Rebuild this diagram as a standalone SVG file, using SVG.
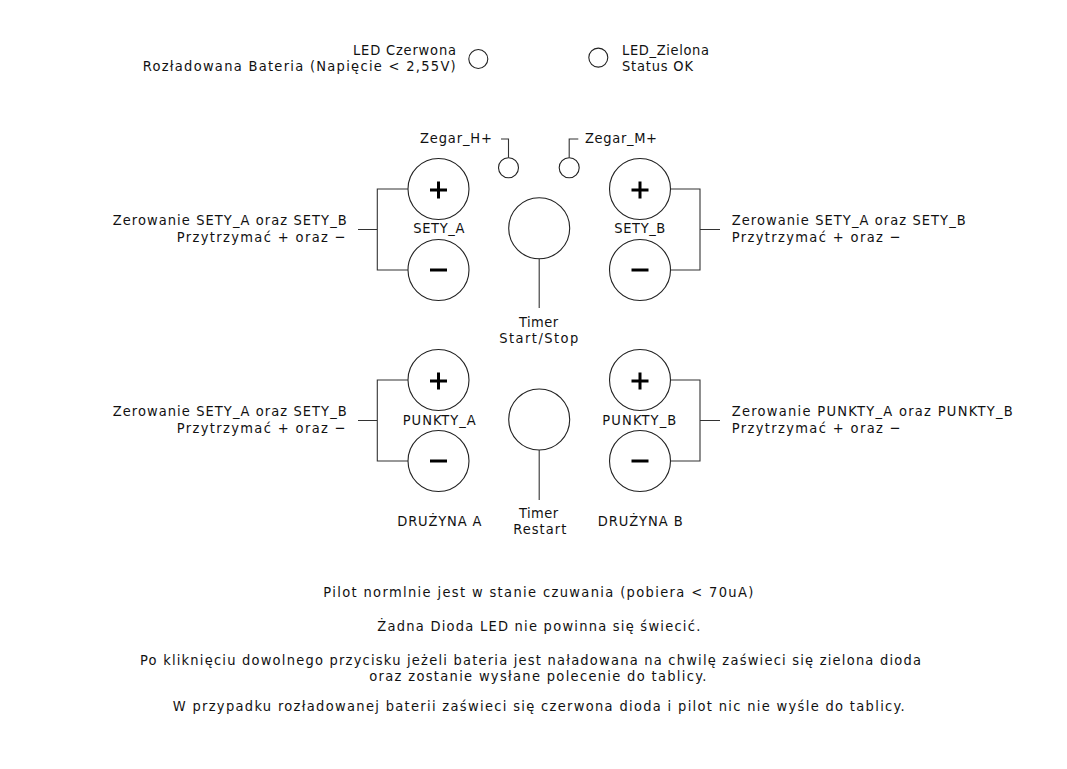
<svg xmlns="http://www.w3.org/2000/svg" width="1067" height="769" viewBox="0 0 1067 769">
<style>
text{font-family:"DejaVu Sans Condensed","DejaVu Sans",sans-serif;font-size:14.5px;fill:#111;}
.c{fill:none;stroke:#222;stroke-width:1.1;}
.w{fill:none;stroke:#333;stroke-width:1.1;}
.s{fill:none;stroke:#000;stroke-width:3;}
</style>
<defs>
<g id="plus"><path class="s" d="M-8.5 0H8.5M0 -8.5V8.5"/></g>
<g id="minus"><path class="s" d="M-8.5 0H8.5"/></g>
</defs>
<rect width="1067" height="769" fill="#fff"/>

<g id="led_red">
<circle class="c" cx="478.3" cy="59" r="9.5"/>
<text x="353" y="54.5" textLength="103" lengthAdjust="spacing">LED Czerwona</text>
<text x="142.7" y="71" textLength="313" lengthAdjust="spacing">Rozładowana Bateria (Napięcie &lt; 2,55V)</text>
</g>
<g id="led_green">
<circle class="c" cx="598.3" cy="57.6" r="9.5"/>
<text x="622" y="54.5" textLength="87" lengthAdjust="spacing">LED_Zielona</text>
<text x="622" y="71" textLength="71" lengthAdjust="spacing">Status OK</text>
</g>

<g id="zegar_h">
<circle class="c" cx="508.5" cy="167.7" r="10"/>
<text x="420" y="143.3" textLength="72" lengthAdjust="spacing">Zegar_H+</text>
</g>
<g id="zegar_m">
<circle class="c" cx="569.2" cy="167.7" r="10"/>
<text x="585" y="143.3" textLength="72" lengthAdjust="spacing">Zegar_M+</text>
</g>

<g id="sety_a">
<circle class="c" cx="438.5" cy="189" r="30.5"/>
<use href="#plus" x="438.5" y="190"/>
<circle class="c" cx="438.5" cy="270" r="30.5"/>
<use href="#minus" x="438.5" y="270"/>
<text x="413.3" y="233.3" textLength="51" lengthAdjust="spacing">SETY_A</text>
</g>
<g id="sety_b">
<circle class="c" cx="640" cy="189" r="30.5"/>
<use href="#plus" x="640" y="190"/>
<circle class="c" cx="640" cy="270" r="30.5"/>
<use href="#minus" x="640" y="270"/>
<text x="614.3" y="233.3" textLength="51" lengthAdjust="spacing">SETY_B</text>
</g>
<g id="timer_start">
<circle class="c" cx="539.2" cy="228.3" r="30.5"/>
<text x="519" y="326.5" textLength="39" lengthAdjust="spacing">Timer</text>
<text x="499.3" y="342.5" textLength="79" lengthAdjust="spacing">Start/Stop</text>
</g>

<g id="punkty_a">
<circle class="c" cx="438.5" cy="380" r="30.5"/>
<use href="#plus" x="438.5" y="381"/>
<circle class="c" cx="438.5" cy="461" r="30.5"/>
<use href="#minus" x="438.5" y="461"/>
<text x="402.7" y="425" textLength="73" lengthAdjust="spacing">PUNKTY_A</text>
</g>
<g id="punkty_b">
<circle class="c" cx="640" cy="380" r="30.5"/>
<use href="#plus" x="640" y="381"/>
<circle class="c" cx="640" cy="461" r="30.5"/>
<use href="#minus" x="640" y="461"/>
<text x="602.3" y="425" textLength="74" lengthAdjust="spacing">PUNKTY_B</text>
</g>
<g id="timer_restart">
<circle class="c" cx="539.2" cy="419.5" r="30.5"/>
<text x="519" y="517.5" textLength="39" lengthAdjust="spacing">Timer</text>
<text x="513.3" y="534" textLength="53" lengthAdjust="spacing">Restart</text>
</g>

<g id="team_a"><text x="397.3" y="526" textLength="84" lengthAdjust="spacing">DRUŻYNA A</text></g>
<g id="team_b"><text x="597.7" y="526" textLength="85" lengthAdjust="spacing">DRUŻYNA B</text></g>

<g id="note_sety_left">
<text x="112.7" y="225" textLength="234" lengthAdjust="spacing">Zerowanie SETY_A oraz SETY_B</text>
<text x="176.7" y="241.5" textLength="169" lengthAdjust="spacing">Przytrzymać + oraz −</text>
</g>
<g id="note_sety_right">
<text x="731.7" y="225" textLength="234" lengthAdjust="spacing">Zerowanie SETY_A oraz SETY_B</text>
<text x="731.7" y="241.5" textLength="169" lengthAdjust="spacing">Przytrzymać + oraz −</text>
</g>
<g id="note_punkty_left">
<text x="112.7" y="416" textLength="234" lengthAdjust="spacing">Zerowanie SETY_A oraz SETY_B</text>
<text x="176.7" y="432.5" textLength="169" lengthAdjust="spacing">Przytrzymać + oraz −</text>
</g>
<g id="note_punkty_right">
<text x="731.7" y="416" textLength="281" lengthAdjust="spacing">Zerowanie PUNKTY_A oraz PUNKTY_B</text>
<text x="731.7" y="432.5" textLength="169" lengthAdjust="spacing">Przytrzymać + oraz −</text>
</g>

<g id="description">
<text x="323.3" y="596.7" textLength="430" lengthAdjust="spacing">Pilot normlnie jest w stanie czuwania (pobiera &lt; 70uA)</text>
<text x="377.3" y="630.7" textLength="323" lengthAdjust="spacing">Żadna Dioda LED nie powinna się świecić.</text>
<text x="140" y="665" textLength="781" lengthAdjust="spacing">Po kliknięciu dowolnego przycisku jeżeli bateria jest naładowana na chwilę zaświeci się zielona dioda</text>
<text x="369.3" y="681" textLength="337" lengthAdjust="spacing">oraz zostanie wysłane polecenie do tablicy.</text>
<text x="172.7" y="711" textLength="732" lengthAdjust="spacing">W przypadku rozładowanej baterii zaświeci się czerwona dioda i pilot nic nie wyśle do tablicy.</text>
</g>

<g id="connectors">
<path class="w" d="M501 139H508.5V157.7"/>
<path class="w" d="M578.3 139H569.2V157.7"/>
<path class="w" d="M539.2 258.8V308"/>
<path class="w" d="M539.2 450V500"/>
<path class="w" d="M408 189H377.3V270H408M358 229.5H377.3"/>
<path class="w" d="M670.5 189H700V270H670.5M700 229.5H720"/>
<path class="w" d="M408 380H377.3V461H408M358 420.5H377.3"/>
<path class="w" d="M670.5 380H700V461H670.5M700 420.5H720"/>
</g>
</svg>
